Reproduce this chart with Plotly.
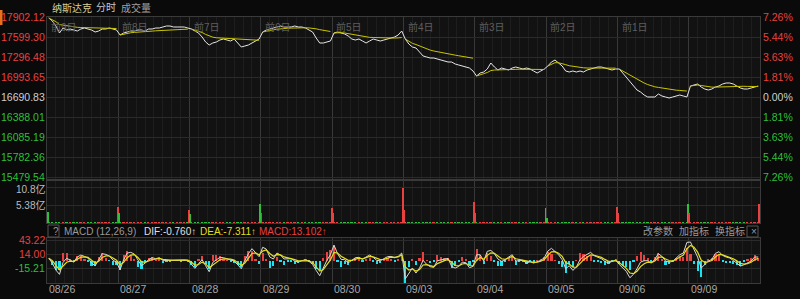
import plotly.graph_objects as go

# ---------------- data ----------------
days = ["08/26", "08/27", "08/28", "08/29", "08/30", "09/03", "09/04", "09/05", "09/06", "09/09"]
day_tags = ["前9日", "前8日", "前7日", "前6日", "前5日", "前4日", "前3日", "前2日", "前1日", ""]
prev_close = 16690.83
price_ticks = [17902.12, 17599.30, 17296.48, 16993.65, 16690.83, 16388.01, 16085.19, 15782.36, 15479.54]
pct_labels = ["7.26%", "5.44%", "3.63%", "1.81%", "0.00%", "1.81%", "3.63%", "5.44%", "7.26%"]
vol_ticks = [10.8, 5.38]
vol_labels = ["10.8亿", "5.38亿"]
macd_ticks = [43.22, 14.00, -15.21]

price = [
    17886.9, 17841.5, 17765.8, 17659.8, 17735.5, 17705.2, 17720.3, 17705.2, 17690.1, 17720.3,
    17735.5, 17720.3, 17705.2, 17674.9, 17690.1, 17720.3, 17720.3, 17735.5, 17720.3, 17705.2,
    17629.5, 17659.8, 17674.9, 17690.1, 17690.1, 17705.2, 17705.2, 17690.1, 17720.3, 17720.3,
    17735.5, 17735.5, 17750.6, 17765.8, 17765.8, 17750.6, 17750.6, 17750.6, 17750.6, 17735.5,
    17720.3, 17690.1, 17659.8, 17599.2, 17523.5, 17478.1, 17508.4, 17523.5, 17553.8, 17568.9,
    17553.8, 17538.7, 17568.9, 17508.4, 17447.8, 17463.0, 17478.1, 17508.4, 17538.7, 17568.9,
    17674.9, 17705.2, 17720.3, 17735.5, 17750.6, 17765.8, 17750.6, 17750.6, 17750.6, 17765.8,
    17750.6, 17750.6, 17735.5, 17705.2, 17674.9, 17584.1, 17508.4, 17508.4, 17523.5, 17538.7,
    17659.8, 17674.9, 17659.8, 17644.6, 17614.4, 17568.9, 17553.8, 17568.9, 17538.7, 17508.4,
    17538.7, 17568.9, 17553.8, 17538.7, 17553.8, 17568.9, 17584.1, 17599.2, 17629.5, 17690.1,
    17568.9, 17493.2, 17447.8, 17432.7, 17372.1, 17311.6, 17296.4, 17281.3, 17281.3, 17266.2,
    17251.0, 17235.9, 17220.7, 17220.7, 17190.5, 17175.3, 17160.2, 17145.0, 17129.9, 17084.5,
    17008.8, 17054.2, 17069.3, 17114.8, 17205.6, 17145.0, 17099.6, 17129.9, 17114.8, 17099.6,
    17129.9, 17145.0, 17129.9, 17114.8, 17129.9, 17114.8, 17084.5, 17054.2, 17084.5, 17114.8,
    17160.2, 17220.7, 17251.0, 17205.6, 17160.2, 17084.5, 17069.3, 17084.5, 17069.3, 17084.5,
    17069.3, 17099.6, 17114.8, 17129.9, 17145.0, 17145.0, 17129.9, 17114.8, 17099.6, 17114.8,
    17114.8, 17054.2, 16993.6, 16917.9, 16857.4, 16796.8, 16766.5, 16721.1, 16690.8, 16690.8,
    16690.8, 16736.3, 16706.0, 16690.8, 16675.7, 16690.8, 16706.0, 16721.1, 16706.0, 16690.8,
    16857.4, 16872.5, 16887.7, 16842.2, 16812.0, 16796.8, 16812.0, 16842.2, 16857.4, 16887.7,
    16902.8, 16902.8, 16887.7, 16857.4, 16827.1, 16812.0, 16812.0, 16827.1, 16842.2, 16857.4,
]

dif = [
    4.9, -4.9, -19.5, -28.5, -3.5, 4.9, 1.4, -2.8, 7.7, 11.8, 9.0, 5.6, -4.9, -10.4, 2.1, 14.6, 13.2, 9.7, 1.4, -3.5,
    -18.8, 2.1, 16.0, 17.4, 13.9, 0.7, -10.4, -4.9, 2.1, 6.3, 4.2, 6.3, 0.7, 0.7, 0.7, 1.4, 2.1, 0.7, 2.1, 0.7,
    -7.0, -16.0, -6.3, 2.1, -10.4, -23.0, -3.5, 2.1, 7.0, 6.3, 4.2, 2.1, -0.7, -8.4, -16.7, 0.7, 14.6, 25.1, 17.4, 8.4,
    28.0, 24.4, 7.7, 3.5, 16.0, 11.8, 3.5, 4.2, 4.2, -0.7, -2.8, 0.0, 2.1, -1.4, -7.7, -20.2, -31.3, -15.3, 0.7, 12.5,
    32.7, 14.6, 2.8, 2.1, -4.2, 0.7, 6.3, 7.0, 2.8, 7.7, 11.8, 7.0, 0.7, 0.0, 3.5, 8.4, 9.0, 6.3, 9.0, 16.0,
    -38.0, -25.8, -15.3, -25.8, -15.3, 0.7, -7.7, -12.5, -13.9, 0.0, 1.4, 2.8, 4.9, -11.8, -15.3, -11.8, -2.8, -4.2, -14.6, -11.8,
    12.5, 12.5, -0.7, 19.5, 21.6, 14.6, 3.5, -1.4, 1.4, 7.7, 12.5, -0.7, 0.7, 0.7, -4.9, -2.1, -4.9, -2.8, 0.7, 6.3,
    20.2, 25.8, 19.5, 12.5, 2.1, -16.7, -10.4, -20.2, -13.2, 2.1, 9.0, 12.5, 17.4, 10.4, 7.7, 4.2, -1.4, -4.9, -1.4, 1.4,
    -7.7, -15.3, -22.3, -35.5, -28.5, -16.7, -2.8, 0.0, 0.0, -4.9, 2.8, 14.6, 9.0, -0.7, -2.8, -1.4, 5.6, 12.5, 16.0, 38.3,
    39.0, 24.4, 7.7, -15.3, -8.4, -0.7, 2.8, 15.3, 18.8, 11.1, 7.7, 5.6, 0.7, -4.9, -11.1, -8.4, -4.9, -0.7, 7.7, 7.7,
]

open_vol = [3.4, 2.9, 2.6, 2.9, 2.9, 3.9, 2.9, 1.6, 2.9, 2.9]
open_up = [0, 0, 0, 1, 1, 1, 1, 0, 1, 1]
close_vol = [4.7, 4.0, 5.6, 4.6, 10.6, 6.2, 4.4, 4.7, 5.7, 5.7]
close_up = [1, 1, 0, 1, 1, 1, 0, 1, 0, 1]

small_vol = [
    0.25, 0.2, 0.18, 0.15, 0.15, 0.12, 0.12, 0.1, 0.12, 0.1, 0.1, 0.12, 0.1, 0.12, 0.12, 0.15, 0.15, 0.15, 0.18, 0.22,
    0.22, 0.2, 0.15, 0.15, 0.12, 0.12, 0.1, 0.12, 0.1, 0.1, 0.12, 0.1, 0.1, 0.12, 0.12, 0.15, 0.12, 0.15, 0.18, 0.2,
    0.25, 0.22, 0.18, 0.15, 0.15, 0.15, 0.12, 0.12, 0.1, 0.12, 0.1, 0.12, 0.12, 0.15, 0.15, 0.15, 0.15, 0.18, 0.18, 0.22,
    0.22, 0.2, 0.18, 0.15, 0.12, 0.12, 0.1, 0.1, 0.12, 0.1, 0.12, 0.1, 0.12, 0.12, 0.15, 0.18, 0.18, 0.15, 0.18, 0.2,
    0.22, 0.18, 0.15, 0.15, 0.12, 0.12, 0.12, 0.1, 0.1, 0.12, 0.1, 0.12, 0.12, 0.12, 0.15, 0.15, 0.15, 0.18, 0.2, 0.25,
    0.28, 0.22, 0.2, 0.18, 0.15, 0.15, 0.15, 0.12, 0.12, 0.12, 0.15, 0.12, 0.12, 0.15, 0.15, 0.15, 0.18, 0.18, 0.2, 0.25,
    0.25, 0.2, 0.18, 0.18, 0.15, 0.12, 0.12, 0.12, 0.1, 0.12, 0.1, 0.12, 0.12, 0.12, 0.15, 0.15, 0.15, 0.15, 0.18, 0.2,
    0.22, 0.2, 0.18, 0.15, 0.15, 0.12, 0.12, 0.1, 0.1, 0.12, 0.1, 0.1, 0.12, 0.12, 0.12, 0.15, 0.15, 0.15, 0.18, 0.2,
    0.25, 0.22, 0.2, 0.18, 0.18, 0.15, 0.15, 0.12, 0.12, 0.12, 0.1, 0.12, 0.12, 0.12, 0.15, 0.15, 0.15, 0.18, 0.18, 0.22,
    0.22, 0.2, 0.18, 0.15, 0.15, 0.12, 0.12, 0.1, 0.12, 0.1, 0.12, 0.12, 0.1, 0.12, 0.12, 0.15, 0.15, 0.15, 0.18, 0.2,
]

# ---------------- derived ----------------
N_DAYS = len(days)
K = len(price) // N_DAYS
xs = [d + (i + 0.5) / K for d in range(N_DAYS) for i in range(K)]

avg_x, avg_y = [], []
for d in range(N_DAYS):
    s = 0.0
    for i in range(K):
        s += price[d * K + i]
        avg_x.append(xs[d * K + i])
        avg_y.append(s / (i + 1))
    avg_x.append(None)
    avg_y.append(None)

alpha = 2 / (3 + 1)
dea = []
for i, v in enumerate(dif):
    dea.append(v if i == 0 else dea[-1] + alpha * (v - dea[-1]))
hist = [2 * (a - b) for a, b in zip(dif, dea)]

RED = "#e8413f"
GREEN = "#2fbf3a"
CYAN = "#19e3f0"
small_colors = [RED if i == 0 or price[i] >= price[i - 1] else GREEN for i in range(len(price))]

W, H = 800, 299
L, R = 47, 40
PW = W - L - R


def px2x(px):
    return (px - L) / PW


def py2y(py):
    return 1 - py / H


fig = go.Figure()

# price panel
fig.add_trace(go.Scatter(x=xs, y=price, mode="lines", line=dict(color="#e6e6e6", width=1),
                         xaxis="x", yaxis="y", hoverinfo="skip"))
fig.add_trace(go.Scatter(x=avg_x, y=avg_y, mode="lines", line=dict(color="#c9c400", width=1),
                         xaxis="x", yaxis="y", hoverinfo="skip", connectgaps=False))

# volume panel
fig.add_trace(go.Bar(x=xs, y=small_vol, width=0.5 / K, marker=dict(color=small_colors, line=dict(width=0)),
                     xaxis="x2", yaxis="y2", hoverinfo="skip"))
fig.add_trace(go.Bar(x=[d + 1 - 0.008 for d in range(N_DAYS)], y=close_vol, width=0.013,
                     marker=dict(color=[RED if u else GREEN for u in close_up], line=dict(width=0)),
                     xaxis="x2", yaxis="y2", hoverinfo="skip"))
fig.add_trace(go.Bar(x=[d + 0.008 for d in range(N_DAYS)], y=open_vol, width=0.013,
                     marker=dict(color=[RED if u else GREEN for u in open_up], line=dict(width=0)),
                     xaxis="x2", yaxis="y2", hoverinfo="skip"))

# MACD panel
fig.add_trace(go.Bar(x=xs, y=hist, width=0.6 / K,
                     marker=dict(color=[RED if h >= 0 else CYAN for h in hist], line=dict(width=0)),
                     xaxis="x3", yaxis="y3", hoverinfo="skip"))
fig.add_trace(go.Scatter(x=xs, y=dif, mode="lines", line=dict(color="#d8d8d8", width=1),
                         xaxis="x3", yaxis="y3", hoverinfo="skip"))
fig.add_trace(go.Scatter(x=xs, y=dea, mode="lines", line=dict(color="#e4df1c", width=1.2),
                         xaxis="x3", yaxis="y3", hoverinfo="skip"))

price_top = price_ticks[0]
per_px = (price_ticks[0] - price_ticks[-1]) / 160
price_range = [price_top - 162 * per_px, price_top]
macd_per_px = (macd_ticks[0] - macd_ticks[2]) / 28
macd_range = [macd_ticks[2] - 15 * macd_per_px, macd_ticks[0] + 2 * macd_per_px]

xcommon = dict(range=[0, N_DAYS], tick0=0, dtick=1, showticklabels=False, showgrid=True,
               gridcolor="#393939", gridwidth=1, zeroline=False, showline=True, mirror=True,
               linecolor="#3a3a3a", ticks="",
               minor=dict(dtick=1 / 8, tick0=0, showgrid=True, gridcolor="#1e1e1e", gridwidth=1))
ycommon = dict(showticklabels=False, showgrid=True, gridcolor="#2a2a2a", zeroline=False,
               showline=True, mirror=True, linecolor="#3a3a3a", ticks="")

fig.update_layout(
    width=W, height=H,
    margin=dict(l=L, r=R, t=0, b=0),
    paper_bgcolor="#0a0a0a", plot_bgcolor="#121212",
    showlegend=False, barmode="overlay", bargap=0,
    font=dict(family="Liberation Sans, Noto Sans CJK SC, sans-serif", size=10, color="#aaaaaa"),
    xaxis=dict(domain=[0, 1], anchor="y", **xcommon),
    xaxis2=dict(domain=[0, 1], anchor="y2", matches="x", **xcommon),
    xaxis3=dict(domain=[0, 1], anchor="y3", matches="x", **xcommon),
    yaxis=dict(domain=[py2y(179), py2y(17)], range=price_range, tickvals=price_ticks, anchor="x", **ycommon),
    yaxis2=dict(domain=[py2y(223), py2y(181)], range=[0, 12.6], tickvals=vol_ticks, anchor="x2", **ycommon),
    yaxis3=dict(domain=[py2y(283), py2y(238)], range=macd_range, tickvals=macd_ticks, anchor="x3", **ycommon),
)

ann = []
LAB = 10.5
# left price labels and right percentage labels
for i, (v, p) in enumerate(zip(price_ticks, pct_labels)):
    if v > prev_close + 1:
        col = "#e8413f"
    elif v < prev_close - 1:
        col = "#2fbf3a"
    else:
        col = "#cfcfcf"
    ann.append(dict(x=px2x(46), y=v, xref="paper", yref="y", text=f"{v:.2f}", showarrow=False,
                    xanchor="right", yanchor="middle", borderpad=0, font=dict(color=col, size=LAB)))
    ann.append(dict(x=px2x(762), y=v, xref="paper", yref="y", text=p, showarrow=False,
                    xanchor="left", yanchor="middle", borderpad=0, font=dict(color=col, size=LAB)))
# volume labels (first one nudged below the price panel label)
for v, t, py in zip(vol_ticks, vol_labels, [189, 205]):
    ann.append(dict(x=px2x(46), y=py2y(py), xref="paper", yref="paper", text=t, showarrow=False,
                    xanchor="right", yanchor="middle", borderpad=0, font=dict(color="#bbbbbb", size=10)))
# MACD labels
for v in macd_ticks:
    col = "#e8413f" if v > 0 else "#2fbf3a"
    ann.append(dict(x=px2x(46), y=v, xref="paper", yref="y3", text=f"{v:.2f}", showarrow=False,
                    xanchor="right", yanchor="middle", borderpad=0, font=dict(color=col, size=LAB)))
# day tags
for d, t in enumerate(day_tags):
    if t:
        ann.append(dict(x=d + 0.03, y=py2y(27), xref="x", yref="paper", text=t, showarrow=False,
                        xanchor="left", yanchor="middle", font=dict(color="#5e5e5e", size=10)))
# date labels
for d, t in enumerate(days):
    ann.append(dict(x=d, y=py2y(289), xref="x", yref="paper", text=t, showarrow=False,
                    xanchor="left", yanchor="middle", font=dict(color="#a8a8a8", size=10.5)))
# title
for px, t, col in [(50, "纳斯达克", "#d8cf98"), (94, "分时", "#c8c8c8"), (119, "成交量", "#a0a0a0")]:
    ann.append(dict(x=px2x(px), y=py2y(8), xref="paper", yref="paper", text=t, showarrow=False,
                    xanchor="left", yanchor="middle", font=dict(color=col, size=10)))
# MACD header
for px, t, col in [(51, "?", "#999999"), (62, "MACD (12,26,9)", "#9a9a9a"), (142, "DIF:-0.760↑", "#e0e0e0"),
                   (198, "DEA:-7.311↑", "#e4df1c"), (257, "MACD:13.102↑", "#e8413f"),
                   (641, "改参数", "#9a9a9a"), (677, "加指标", "#9a9a9a"), (713, "换指标", "#9a9a9a"),
                   (749, "×", "#9a9a9a")]:
    ann.append(dict(x=px2x(px), y=py2y(231), xref="paper", yref="paper", text=t, showarrow=False,
                    xanchor="left", yanchor="middle", font=dict(color=col, size=10)))

shapes = [
    dict(type="rect", xref="paper", yref="paper", x0=px2x(0), x1=px2x(2.5), y0=py2y(25), y1=py2y(10),
         fillcolor="#e8701a", line=dict(width=0)),
    dict(type="rect", xref="paper", yref="paper", x0=px2x(48), x1=px2x(59), y0=py2y(237), y1=py2y(225),
         fillcolor="rgba(0,0,0,0)", line=dict(color="#555555", width=1)),
    dict(type="rect", xref="paper", yref="paper", x0=px2x(747), x1=px2x(758), y0=py2y(237), y1=py2y(226),
         fillcolor="rgba(0,0,0,0)", line=dict(color="#555555", width=1)),
]

fig.update_layout(annotations=ann, shapes=shapes)
fig.write_html("out.html")
